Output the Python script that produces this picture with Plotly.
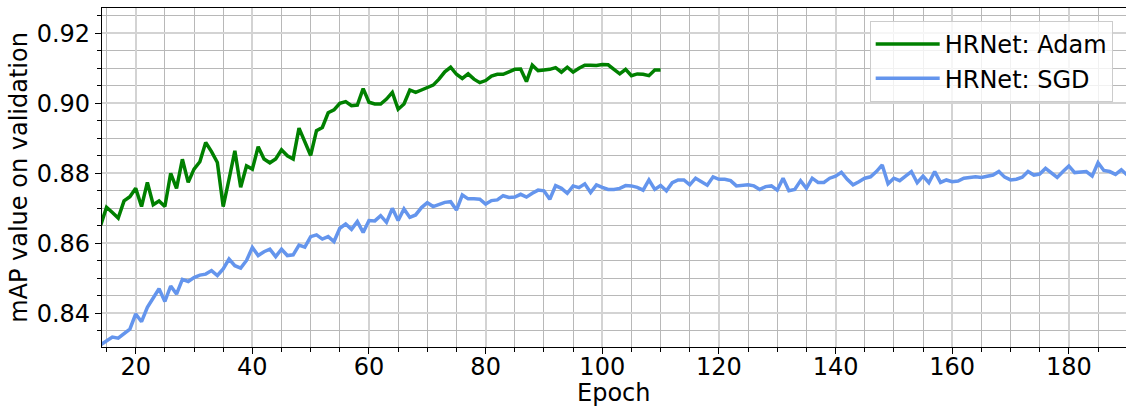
import plotly.graph_objects as go

adam_epochs = list(range(14, 111))
adam_map = [
    0.8652, 0.8703, 0.8688, 0.8672, 0.8721, 0.8733, 0.8757, 0.8705, 0.8774, 0.8710,
    0.8721, 0.8705, 0.8800, 0.8757, 0.8840, 0.8774, 0.8812, 0.8833, 0.8888, 0.8862,
    0.8831, 0.8705, 0.8783, 0.8864, 0.8760, 0.8821, 0.8812, 0.8876, 0.8841, 0.8830,
    0.8841, 0.8867, 0.8850, 0.8841, 0.8929, 0.8892, 0.8851, 0.8922, 0.8931, 0.8973,
    0.8981, 0.9000, 0.9005, 0.8993, 0.8995, 0.9042, 0.9003, 0.8998, 0.8998, 0.9012,
    0.9031, 0.8983, 0.8998, 0.9038, 0.9031, 0.9038, 0.9045, 0.9052, 0.9069, 0.9090,
    0.9103, 0.9083, 0.9071, 0.9084, 0.9069, 0.9059, 0.9065, 0.9078, 0.9083, 0.9083,
    0.9090, 0.9097, 0.9098, 0.9062, 0.9109, 0.9093, 0.9095, 0.9097, 0.9102, 0.9089,
    0.9103, 0.9089, 0.9100, 0.9109, 0.9109, 0.9108, 0.9111, 0.9110, 0.9097, 0.9084,
    0.9097, 0.9079, 0.9084, 0.9083, 0.9079, 0.9095, 0.9095,
]

sgd_epochs = list(range(14, 191))
sgd_map = [
    0.8310, 0.8322, 0.8332, 0.8329, 0.8341, 0.8355, 0.8398, 0.8376, 0.8417, 0.8443,
    0.8470, 0.8434, 0.8478, 0.8455, 0.8497, 0.8491, 0.8502, 0.8509, 0.8512, 0.8522,
    0.8508, 0.8527, 0.8555, 0.8536, 0.8529, 0.8551, 0.8588, 0.8565, 0.8576, 0.8583,
    0.8562, 0.8583, 0.8565, 0.8567, 0.8595, 0.8589, 0.8619, 0.8624, 0.8612, 0.8619,
    0.8605, 0.8643, 0.8655, 0.8640, 0.8662, 0.8631, 0.8665, 0.8664, 0.8679, 0.8660,
    0.8700, 0.8665, 0.8698, 0.8674, 0.8681, 0.8702, 0.8716, 0.8705, 0.8710, 0.8717,
    0.8719, 0.8695, 0.8738, 0.8727, 0.8727, 0.8726, 0.8712, 0.8722, 0.8724, 0.8736,
    0.8731, 0.8732, 0.8740, 0.8732, 0.8743, 0.8752, 0.8750, 0.8726, 0.8765, 0.8757,
    0.8743, 0.8764, 0.8759, 0.8770, 0.8745, 0.8767, 0.8760, 0.8754, 0.8754, 0.8757,
    0.8765, 0.8764, 0.8760, 0.8752, 0.8781, 0.8754, 0.8765, 0.8750, 0.8773, 0.8781,
    0.8781, 0.8767, 0.8786, 0.8776, 0.8766, 0.8790, 0.8783, 0.8783, 0.8779, 0.8764,
    0.8766, 0.8767, 0.8764, 0.8754, 0.8762, 0.8764, 0.8752, 0.8786, 0.8750, 0.8754,
    0.8779, 0.8757, 0.8786, 0.8774, 0.8774, 0.8786, 0.8792, 0.8803, 0.8783, 0.8767,
    0.8776, 0.8786, 0.8790, 0.8805, 0.8824, 0.8770, 0.8786, 0.8779, 0.8792, 0.8805,
    0.8773, 0.8792, 0.8773, 0.8805, 0.8774, 0.8781, 0.8776, 0.8778, 0.8786, 0.8788,
    0.8790, 0.8788, 0.8792, 0.8795, 0.8805, 0.8789, 0.8781, 0.8783, 0.8789, 0.8805,
    0.8795, 0.8798, 0.8814, 0.8800, 0.8788, 0.8805, 0.8821, 0.8802, 0.8803, 0.8805,
    0.8792, 0.8830, 0.8808, 0.8805, 0.8797, 0.8810, 0.8795,
]

x_ticks = [20, 40, 60, 80, 100, 120, 140, 160, 180]
y_ticks = [0.84, 0.86, 0.88, 0.90, 0.92]
x_title = "Epoch"
y_title = "mAP value on validation"

FONT = "DejaVu Sans"

fig = go.Figure()
fig.add_trace(go.Scatter(x=adam_epochs, y=adam_map, mode="lines", name="HRNet: Adam",
                         line=dict(color="#008000", width=3.5)))
fig.add_trace(go.Scatter(x=sgd_epochs, y=sgd_map, mode="lines", name="HRNet: SGD",
                         line=dict(color="#6495ED", width=3.5)))

axis_common = dict(
    showline=True, linecolor="black", linewidth=1.2,
    ticks="outside", ticklen=6, tickwidth=1.2, tickcolor="black",
    showgrid=True, gridcolor="#d3d3d3", gridwidth=1.6,
    zeroline=False,
    tickfont=dict(family=FONT, size=24, color="black"),
)

fig.update_xaxes(
    **axis_common,
    range=[14.22, 189.8],
    tickvals=x_ticks,
    mirror=True,
    ticklabelstandoff=-8,
    minor=dict(dtick=5, tick0=0, ticks="outside", ticklen=3.5, tickcolor="black",
               showgrid=True, gridcolor="#b8b8b8", gridwidth=1),
)
fig.update_yaxes(
    **axis_common,
    range=[0.83037, 0.92723],
    tickvals=y_ticks,
    tickformat=".2f",
    title=dict(text=y_title, font=dict(family=FONT, size=24, color="black"), standoff=2),
    minor=dict(dtick=0.005, tick0=0, ticks="outside", ticklen=3.5, tickcolor="black",
               showgrid=True, gridcolor="#b8b8b8", gridwidth=1),
)

fig.add_annotation(
    text=x_title, xref="paper", yref="paper", x=0.5, y=-0.18,
    xanchor="center", yanchor="bottom", showarrow=False, borderpad=0,
    font=dict(family=FONT, size=24, color="black"),
)

fig.update_layout(
    width=1126, height=408,
    margin=dict(l=102, r=0, t=8, b=61),
    plot_bgcolor="white", paper_bgcolor="white",
    font=dict(family=FONT, size=24, color="black"),
    legend=dict(x=0.987, y=0.962, xanchor="right", yanchor="top",
                bgcolor="rgba(255,255,255,0.8)", bordercolor="#cccccc", borderwidth=1,
                font=dict(family=FONT, size=24, color="black"),
                itemwidth=64, tracegroupgap=0),
)

fig.write_html("out.html")
